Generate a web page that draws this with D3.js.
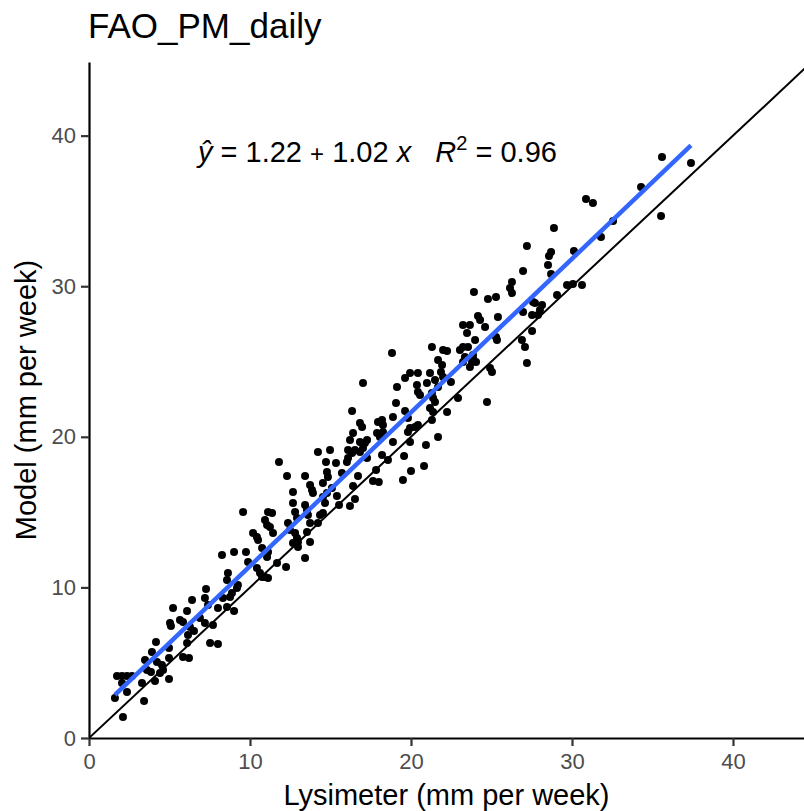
<!DOCTYPE html>
<html lang="en">
<head>
<meta charset="UTF-8" />
<title>FAO_PM_daily</title>
<script src="https://d3js.org/d3.v7.min.js"></script>
<style>
  body { margin: 0; background: #fff; }
  svg { display: block; font-family: "Liberation Sans", Arial, sans-serif; }
</style>
</head>
<body>
<svg id="chart" width="804" height="811"></svg>
<script>
// labels
const titleText = "FAO_PM_daily";
const xLabel = "Lysimeter (mm per week)";
const yLabel = "Model (mm per week)";
const xTicks = [0, 10, 20, 30, 40];
const yTicks = [0, 10, 20, 30, 40];
const xDomain = [0, 44.41];
const yDomain = [0, 44.89];

// fitted line shown in the annotation
const fitIntercept = 1.22;
const fitSlope = 1.02;
const fitR2 = 0.96;

// [lysimeter, model] weekly values
const points = [
  [5.22,8.63],[6.40,9.16],[6.09,8.43],[7.39,8.83],[8.01,8.63],[8.57,8.70],[9.01,8.43],[6.89,7.97],
  [5.03,7.64],[5.09,7.44],[5.65,7.84],[5.84,7.70],[6.27,7.37],[7.20,7.64],[7.70,7.50],[6.52,7.10],
  [6.15,6.84],[7.52,6.31],[8.01,6.24],[4.16,6.37],[3.91,5.71],[6.09,6.31],[4.97,5.98],[4.97,5.31],
  [5.84,5.38],[6.21,5.31],[3.48,5.18],[3.60,4.52],[4.22,5.05],[4.53,4.85],[4.60,4.52],[4.41,4.32],
  [3.85,4.38],[1.74,4.12],[2.05,4.12],[2.36,4.12],[2.67,4.12],[2.05,3.65],[2.36,3.05],[3.29,3.65],
  [4.10,3.78],[4.97,3.92],[1.61,2.66],[3.42,2.46],[2.11,1.39],

  [12.67,16.33],[13.73,16.80],[13.85,16.47],[13.91,16.27],[14.53,16.93],[14.78,16.27],[14.53,16.00],
  [12.67,15.60],[12.80,15.01],[13.42,15.47],[13.54,15.14],[11.12,15.01],[11.37,14.94],[10.93,14.48],
  [11.06,14.14],[11.24,14.01],[11.43,13.61],[10.19,13.61],[10.43,13.35],[10.50,13.15],[12.36,14.28],
  [12.48,13.81],[12.80,13.61],[12.92,13.28],[13.60,14.81],[12.92,14.61],[13.73,14.28],[14.22,14.28],
  [14.35,14.81],[14.53,14.94],[14.66,15.60],[13.54,13.68],[12.98,13.01],[12.67,12.95],[13.73,13.01],
  [12.98,12.68],[8.26,12.15],[9.01,12.35],[9.75,12.35],[10.75,12.62],[11.12,12.35],[11.06,12.02],
  [9.88,11.69],[10.43,11.29],[10.62,10.96],[10.75,10.69],[10.93,10.69],[11.12,10.62],[11.68,11.62],
  [12.24,11.35],[13.42,11.95],[8.63,10.96],[8.57,10.49],[9.25,10.16],[9.19,9.96],[8.88,9.63],
  [8.76,9.36],[8.32,9.30],[7.27,9.89],[7.20,9.30],[9.57,15.01],

  [16.34,21.71],[19.07,22.24],[16.83,20.92],[16.96,20.65],[17.95,20.98],[18.20,21.12],[18.26,20.78],
  [18.88,21.31],[16.40,20.25],[16.21,19.79],[16.83,19.65],[17.14,19.59],[17.27,19.79],[17.89,20.25],
  [18.07,19.99],[18.26,20.32],[14.22,18.99],[14.97,19.12],[16.09,19.12],[16.34,18.92],[16.09,18.59],
  [16.52,19.12],[16.83,18.99],[17.02,19.26],[17.27,18.59],[18.20,18.79],[18.88,19.65],[18.57,18.46],
  [11.80,18.33],[14.72,18.33],[15.34,18.26],[16.02,18.33],[14.78,17.66],[14.84,17.33],[13.42,17.40],
  [12.30,17.40],[15.71,17.60],[16.71,17.40],[17.83,17.80],[17.64,17.07],[18.00,17.00],[15.09,16.60],
  [16.40,16.73],[15.40,16.07],[15.53,15.47],[16.21,15.41],[16.52,15.87],

  [18.82,25.56],[17.02,23.57],[19.13,23.31],[19.94,24.24],[20.43,24.24],[21.18,24.24],[21.86,24.30],
  [19.63,23.90],[20.37,23.44],[20.43,22.97],[20.56,22.78],[20.99,23.57],[21.49,23.77],[21.99,23.97],
  [22.48,23.64],[21.68,23.31],[21.30,22.91],[21.37,22.58],[21.49,22.31],[22.92,22.58],[19.63,21.71],
  [21.18,21.91],[21.37,21.65],[22.24,21.65],[19.81,21.25],[21.30,21.12],[19.94,20.58],[20.25,20.65],
  [20.43,20.78],[19.81,20.32],[21.68,19.99],[19.94,19.65],[20.93,19.46],[19.57,18.73],[20.81,18.06],
  [20.00,17.73],[19.50,17.13],[24.72,22.31],[25.03,24.30],

  [23.23,27.42],[23.66,27.42],[23.48,26.89],[23.98,26.43],[21.30,25.96],[21.99,25.76],[22.24,25.70],
  [23.04,25.76],[23.23,25.96],[23.54,25.96],[23.85,25.43],[23.85,25.23],[23.79,24.97],[24.04,24.97],
  [21.68,25.10],[21.93,24.77],[23.35,25.30],[23.23,24.97],[23.66,24.63],

  [23.91,29.61],[24.78,29.15],[25.28,29.28],[27.58,28.95],[27.70,28.88],[28.14,28.75],[28.01,28.42],
  [27.89,28.09],[26.96,28.29],[27.52,28.09],[24.16,28.02],[24.29,27.76],[25.40,27.95],[29.07,29.42],
  [24.60,27.29],[25.28,26.63],[25.34,26.43],[27.52,27.03],[26.89,26.43],[27.08,25.96],[24.91,24.57],
  [27.20,24.90],[26.27,30.28],[26.15,29.88],[26.27,29.55],

  [35.59,38.58],[37.39,38.18],[34.29,36.59],[30.87,35.79],[31.30,35.52],[35.53,34.66],[32.55,34.33],
  [28.88,33.86],[31.80,33.27],[27.20,32.67],[28.70,32.27],[28.57,32.00],[30.12,32.34],[28.51,31.41],
  [26.96,31.01],[28.70,30.81],[29.69,30.08],[30.06,30.15],[30.62,30.08]
];

const width = 804, height = 811;
const margin = {top: 62, right: 0, bottom: 73, left: 89};
const innerW = width - margin.left - margin.right;
const innerH = height - margin.top - margin.bottom;

const svg = d3.select("#chart");

const x = d3.scaleLinear().domain(xDomain).range([margin.left, width - margin.right]);
const y = d3.scaleLinear().domain(yDomain).range([height - margin.bottom, margin.top]);

svg.append("clipPath").attr("id", "panel")
  .append("rect")
  .attr("x", margin.left).attr("y", margin.top)
  .attr("width", innerW).attr("height", innerH);

const plot = svg.append("g").attr("clip-path", "url(#panel)");

// points
plot.selectAll("circle")
  .data(points)
  .enter()
  .append("circle")
  .attr("cx", d => x(d[0]))
  .attr("cy", d => y(d[1]))
  .attr("r", 4)
  .attr("fill", "#000");

// 1:1 line
const lim = Math.max(xDomain[1], yDomain[1]);
plot.append("line")
  .attr("x1", x(0)).attr("y1", y(0))
  .attr("x2", x(lim)).attr("y2", y(lim))
  .attr("stroke", "#000")
  .attr("stroke-width", 2);

// regression line over the data range
const xExt = d3.extent(points, d => d[0]);
plot.append("line")
  .attr("x1", x(xExt[0])).attr("y1", y(fitIntercept + fitSlope * xExt[0]))
  .attr("x2", x(xExt[1])).attr("y2", y(fitIntercept + fitSlope * xExt[1]))
  .attr("stroke", "#3366FF")
  .attr("stroke-width", 4.5);

// axes
const xAxis = svg.append("g")
  .attr("transform", `translate(0,${height - margin.bottom})`)
  .call(d3.axisBottom(x).tickValues(xTicks).tickSize(8).tickSizeOuter(0).tickPadding(7));
const yAxis = svg.append("g")
  .attr("transform", `translate(${margin.left},0)`)
  .call(d3.axisLeft(y).tickValues(yTicks).tickSize(8).tickSizeOuter(0).tickPadding(5));

[xAxis, yAxis].forEach(g => {
  g.select(".domain").attr("stroke", "#000").attr("stroke-width", 2.2);
  g.selectAll(".tick line").attr("stroke", "#333333").attr("stroke-width", 2.2);
  g.selectAll(".tick text")
    .attr("fill", "#4D4D4D")
    .style("font-size", "22px")
    .style("font-family", "'Liberation Sans', Arial, sans-serif");
});

// titles
svg.append("text")
  .attr("x", margin.left - 1)
  .attr("y", 38)
  .style("font-size", "35px")
  .text(titleText);

svg.append("text")
  .attr("x", margin.left + innerW / 2)
  .attr("y", 805)
  .attr("text-anchor", "middle")
  .style("font-size", "29px")
  .text(xLabel);

svg.append("text")
  .attr("transform", `translate(36,${margin.top + innerH / 2}) rotate(-90)`)
  .attr("text-anchor", "middle")
  .style("font-size", "29px")
  .text(yLabel);

// equation label
const eq = svg.append("text")
  .attr("x", 198)
  .attr("y", 162)
  .attr("xml:space", "preserve")
  .style("font-size", "29px");
eq.append("tspan").style("font-style", "italic").text("ŷ");
eq.append("tspan").text(` = ${fitIntercept.toFixed(2)} `);
eq.append("tspan").style("font-size", "24px").text("+");
eq.append("tspan").text(` ${fitSlope.toFixed(2)} `);
eq.append("tspan").style("font-style", "italic").text("x");
eq.append("tspan").text("   ");
eq.append("tspan").style("font-style", "italic").text("R");
eq.append("tspan").attr("dy", -12).style("font-size", "20px").text("2");
eq.append("tspan").attr("dy", 12).text(` = ${fitR2.toFixed(2)}`);
</script>
</body>
</html>
